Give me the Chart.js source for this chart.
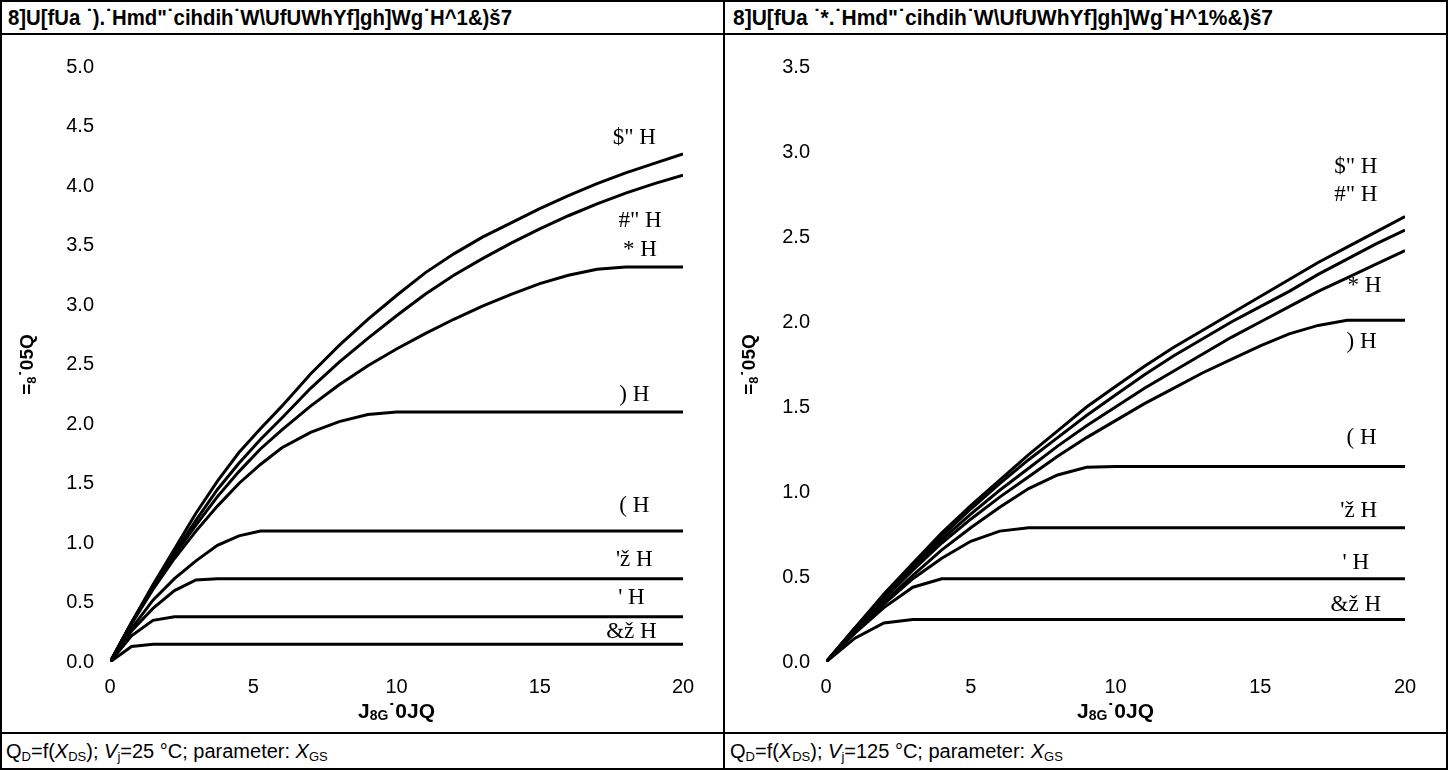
<!DOCTYPE html>
<html>
<head>
<meta charset="utf-8">
<script src="https://cdn.jsdelivr.net/npm/chart.js@4.4.1/dist/chart.umd.min.js"></script>
<style>
  html, body { margin: 0; padding: 0; background: #fff; }
  #wrap { position: relative; width: 1448px; height: 770px; overflow: hidden; background: #fff; }
  .line { position: absolute; background: #000; }
  .title { position: absolute; top: 0; height: 34px; line-height: 35px; font-family: "Liberation Sans", Arial, sans-serif; font-weight: bold; font-size: 22px; color: #000; white-space: nowrap; transform-origin: 0 50%; }
  .foot { position: absolute; top: 734px; height: 34px; line-height: 34px; font-family: "Liberation Sans", Arial, sans-serif; font-size: 20px; color: #000; white-space: nowrap; }
  .foot sub { font-size: 13px; vertical-align: -3px; }
  canvas { position: absolute; }
</style>
</head>
<body>
<div id="wrap">
  <div class="title" id="t1" style="left:8px;"></div>
  <div class="title" id="t2" style="left:733px;"></div>
  <div class="foot" style="left:6px;">Q<sub>D</sub>=f(<i>X</i><sub>DS</sub>); <i>V</i><sub>j</sub>=25 °C; parameter: <i>X</i><sub>GS</sub></div>
  <div class="foot" style="left:730px;">Q<sub>D</sub>=f(<i>X</i><sub>DS</sub>); <i>V</i><sub>j</sub>=125 °C; parameter: <i>X</i><sub>GS</sub></div>
  <canvas id="c1" width="721" height="697" style="left:2px;top:35px;"></canvas>
  <canvas id="c2" width="721" height="697" style="left:725px;top:35px;"></canvas>
  <div class="line" style="left:0;top:0;width:1448px;height:2px;"></div>
  <div class="line" style="left:0;top:768px;width:1448px;height:2px;"></div>
  <div class="line" style="left:0;top:0;width:2px;height:770px;"></div>
  <div class="line" style="left:1446px;top:0;width:2px;height:770px;"></div>
  <div class="line" style="left:723px;top:0;width:2px;height:770px;"></div>
  <div class="line" style="left:0;top:33px;width:1448px;height:2px;"></div>
  <div class="line" style="left:0;top:732px;width:1448px;height:2px;"></div>
</div>
<script>
// ---------- texts ----------
const title25 = '8]U[fUa ˙).˙Hmd"˙cihdih˙W\\UfUWhYf]gh]Wg˙H^1&)š7';
const title125 = '8]U[fUa ˙*.˙Hmd"˙cihdih˙W\\UfUWhYf]gh]Wg˙H^1%&)š7';
const curveLabels = ['$" H', '#" H', '* H', ') H', '( H', "'ž H", "' H", '&ž H'];

// ---------- left chart (25 °C) ----------
const vds25 = [0, 0.75, 1.5, 2.25, 3, 3.75, 4.5, 5.25, 6, 7, 8, 9, 10, 11, 12, 13, 14, 15, 16, 17, 18, 19, 20];
const id25_20 = [0, 0.33, 0.65, 0.95, 1.25, 1.52, 1.76, 1.96, 2.15, 2.42, 2.66, 2.88, 3.08, 3.27, 3.43, 3.57, 3.69, 3.81, 3.92, 4.02, 4.11, 4.19, 4.27];
const id25_10 = [0, 0.33, 0.64, 0.92, 1.19, 1.45, 1.67, 1.87, 2.05, 2.30, 2.52, 2.72, 2.91, 3.09, 3.25, 3.39, 3.52, 3.64, 3.75, 3.85, 3.94, 4.02, 4.09];
const id25_8  = [0, 0.33, 0.63, 0.90, 1.15, 1.39, 1.60, 1.79, 1.95, 2.15, 2.33, 2.49, 2.63, 2.76, 2.88, 2.99, 3.09, 3.18, 3.25, 3.30, 3.32, 3.32, 3.32];
const id25_7  = [0, 0.32, 0.61, 0.87, 1.10, 1.31, 1.50, 1.66, 1.80, 1.93, 2.02, 2.08, 2.10, 2.10, 2.10, 2.10, 2.10, 2.10, 2.10, 2.10, 2.10, 2.10, 2.10];
const id25_6  = [0, 0.28, 0.52, 0.70, 0.85, 0.98, 1.06, 1.10, 1.10, 1.10, 1.10, 1.10, 1.10, 1.10, 1.10, 1.10, 1.10, 1.10, 1.10, 1.10, 1.10, 1.10, 1.10];
const id25_55 = [0, 0.26, 0.45, 0.60, 0.69, 0.70, 0.70, 0.70, 0.70, 0.70, 0.70, 0.70, 0.70, 0.70, 0.70, 0.70, 0.70, 0.70, 0.70, 0.70, 0.70, 0.70, 0.70];
const id25_5  = [0, 0.22, 0.35, 0.38, 0.38, 0.38, 0.38, 0.38, 0.38, 0.38, 0.38, 0.38, 0.38, 0.38, 0.38, 0.38, 0.38, 0.38, 0.38, 0.38, 0.38, 0.38, 0.38];
const id25_45 = [0, 0.13, 0.15, 0.15, 0.15, 0.15, 0.15, 0.15, 0.15, 0.15, 0.15, 0.15, 0.15, 0.15, 0.15, 0.15, 0.15, 0.15, 0.15, 0.15, 0.15, 0.15, 0.15];
const labelX25 = [18.3, 18.5, 18.5, 18.3, 18.3, 18.3, 18.2, 18.2];
const labelY25 = [4.40, 3.71, 3.46, 2.24, 1.31, 0.86, 0.54, 0.25];
const yTicks25 = [0, 0.5, 1, 1.5, 2, 2.5, 3, 3.5, 4, 4.5, 5];

// ---------- right chart (125 °C) ----------
const vds125 = [0, 1, 2, 3, 4, 5, 6, 7, 8, 9, 10, 11, 12, 13, 14, 15, 16, 17, 18, 19, 20];
const id125_20 = [0, 0.20, 0.40, 0.58, 0.76, 0.92, 1.07, 1.22, 1.36, 1.50, 1.62, 1.74, 1.85, 1.95, 2.05, 2.15, 2.25, 2.35, 2.44, 2.53, 2.62];
const id125_10 = [0, 0.20, 0.39, 0.57, 0.74, 0.90, 1.05, 1.19, 1.32, 1.45, 1.57, 1.69, 1.80, 1.90, 2.00, 2.09, 2.18, 2.28, 2.37, 2.46, 2.54];
const id125_8  = [0, 0.20, 0.38, 0.56, 0.72, 0.87, 1.01, 1.14, 1.27, 1.39, 1.50, 1.61, 1.71, 1.81, 1.91, 2.00, 2.09, 2.18, 2.26, 2.34, 2.42];
const id125_7  = [0, 0.19, 0.37, 0.54, 0.70, 0.84, 0.97, 1.09, 1.21, 1.32, 1.42, 1.52, 1.61, 1.70, 1.78, 1.86, 1.93, 1.98, 2.01, 2.01, 2.01];
const id125_6  = [0, 0.18, 0.35, 0.51, 0.66, 0.79, 0.91, 1.02, 1.10, 1.145, 1.15, 1.15, 1.15, 1.15, 1.15, 1.15, 1.15, 1.15, 1.15, 1.15, 1.15];
const id125_55 = [0, 0.18, 0.34, 0.49, 0.61, 0.71, 0.77, 0.79, 0.79, 0.79, 0.79, 0.79, 0.79, 0.79, 0.79, 0.79, 0.79, 0.79, 0.79, 0.79, 0.79];
const id125_5  = [0, 0.17, 0.32, 0.44, 0.49, 0.49, 0.49, 0.49, 0.49, 0.49, 0.49, 0.49, 0.49, 0.49, 0.49, 0.49, 0.49, 0.49, 0.49, 0.49, 0.49];
const id125_45 = [0, 0.14, 0.23, 0.25, 0.25, 0.25, 0.25, 0.25, 0.25, 0.25, 0.25, 0.25, 0.25, 0.25, 0.25, 0.25, 0.25, 0.25, 0.25, 0.25, 0.25];
const labelX125 = [18.3, 18.3, 18.6, 18.5, 18.5, 18.4, 18.3, 18.3];
const labelY125 = [2.91, 2.75, 2.21, 1.88, 1.32, 0.89, 0.58, 0.335];
const yTicks125 = [0, 0.5, 1, 1.5, 2, 2.5, 3, 3.5];

const xTicks = [0, 5, 10, 15, 20];

function setTitle(id, text, targetW) {
  const el = document.getElementById(id);
  el.textContent = text;
  const w = el.getBoundingClientRect().width;
  if (w > 0) el.style.transform = 'scaleX(' + (targetW / w) + ')';
}
setTitle('t1', title25, 504);
setTitle('t2', title125, 540);

function pts(xs, ys) { return xs.map((x, i) => ({ x: x, y: ys[i] })); }

function drawParts(ctx, parts, cx, cy) {
  let total = 0;
  parts.forEach(p => { ctx.font = p.font; p.w = ctx.measureText(p.t).width; total += p.w; });
  let x = cx - total / 2;
  ctx.textBaseline = 'middle';
  ctx.textAlign = 'left';
  parts.forEach(p => { ctx.font = p.font; ctx.fillText(p.t, x, cy + (p.dy || 0)); x += p.w; });
}

const B = 'bold 21px "Liberation Sans", Arial, sans-serif';
const S = 'bold 14px "Liberation Sans", Arial, sans-serif';
const BY = 'bold 19px "Liberation Sans", Arial, sans-serif';
const SY = 'bold 13px "Liberation Sans", Arial, sans-serif';
const xTitleParts = [{ t: 'J', font: B }, { t: '8G', font: S, dy: 4 }, { t: '˙0JQ', font: B }];
const yTitleParts = [{ t: '=', font: BY }, { t: '8', font: SY, dy: 4 }, { t: '˙05Q', font: BY }];

const annot = {
  id: 'annot',
  afterDatasetsDraw(chart, args, opts) {
    const ctx = chart.ctx;
    const xs = chart.scales.x, ys = chart.scales.y, ca = chart.chartArea;
    ctx.save();
    ctx.fillStyle = '#000';
    ctx.font = '23px "Liberation Serif", "Times New Roman", serif';
    ctx.textAlign = 'center';
    ctx.textBaseline = 'middle';
    opts.texts.forEach((t, i) => {
      ctx.fillText(t, xs.getPixelForValue(opts.lx[i]), ys.getPixelForValue(opts.ly[i]));
    });
    drawParts(ctx, xTitleParts.map(p => Object.assign({}, p)), (ca.left + ca.right) / 2, ca.bottom + 50);
    ctx.translate(opts.yTitleX, (ca.top + ca.bottom) / 2);
    ctx.rotate(-Math.PI / 2);
    drawParts(ctx, yTitleParts.map(p => Object.assign({}, p)), 0, 0);
    ctx.restore();
  }
};

function makeChart(id, xsArr, series, yMax, yTicks, yWidth, padRight, lx, ly, yTitleX) {
  new Chart(document.getElementById(id), {
    type: 'scatter',
    data: {
      datasets: series.map(s => ({
        data: pts(xsArr, s),
        showLine: true,
        borderColor: '#000',
        borderWidth: 3,
        pointRadius: 0,
        tension: 0,
        fill: false
      }))
    },
    options: {
      responsive: false,
      animation: false,
      devicePixelRatio: 1,
      layout: { padding: { top: 32, right: padRight, bottom: 0, left: 0 } },
      plugins: {
        legend: { display: false },
        tooltip: { enabled: false },
        annot: { texts: curveLabels, lx: lx, ly: ly, yTitleX: yTitleX }
      },
      scales: {
        x: {
          type: 'linear', min: 0, max: 20,
          grid: { display: false, drawTicks: false },
          border: { display: false },
          afterBuildTicks: s => { s.ticks = xTicks.map(v => ({ value: v })); },
          afterFit: s => { s.height = 70; },
          ticks: { padding: 13, color: '#000', font: { family: '"Liberation Sans", Arial, sans-serif', size: 20 }, maxRotation: 0 }
        },
        y: {
          type: 'linear', min: 0, max: yMax,
          grid: { display: false, drawTicks: false },
          border: { display: false },
          afterBuildTicks: s => { s.ticks = yTicks.map(v => ({ value: v })); },
          afterFit: s => { s.width = yWidth; },
          ticks: { padding: 16, color: '#000', font: { family: '"Liberation Sans", Arial, sans-serif', size: 20 }, callback: v => v.toFixed(1) }
        }
      }
    },
    plugins: [annot]
  });
}

makeChart('c1', vds25, [id25_20, id25_10, id25_8, id25_7, id25_6, id25_55, id25_5, id25_45], 5, yTicks25, 108, 40, labelX25, labelY25, 26);
makeChart('c2', vds125, [id125_20, id125_10, id125_8, id125_7, id125_6, id125_55, id125_5, id125_45], 3.5, yTicks125, 101, 41, labelX125, labelY125, 25);
</script>
</body>
</html>
